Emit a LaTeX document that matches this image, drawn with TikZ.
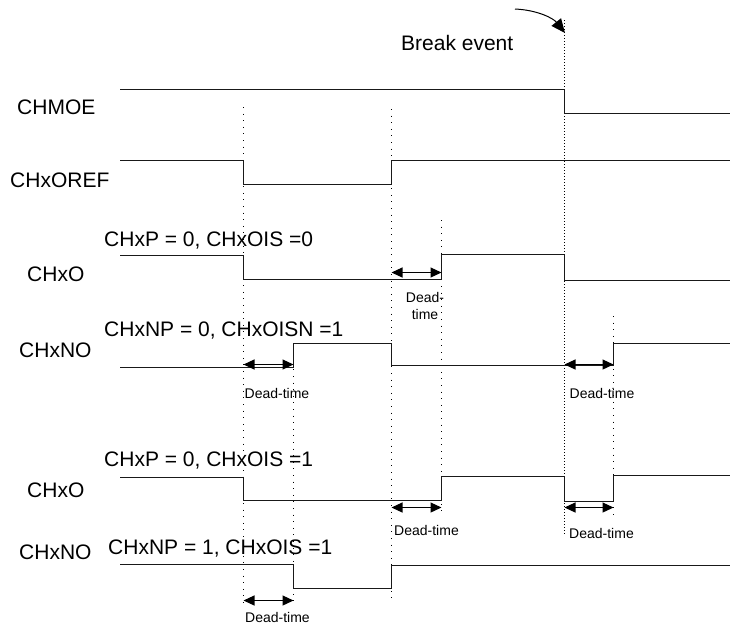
\documentclass[tikz,border=0pt]{standalone}
\usepackage{fontspec}
\setmainfont{Liberation Sans}
\usetikzlibrary{arrows.meta}
\tikzset{
  wave/.style={line width=1.1pt,black!90,line join=miter},
  guide/.style={line width=0.8pt,black,dash pattern=on 1pt off 5.6pt},
  breakguide/.style={line width=1pt,black,dash pattern=on 1.3pt off 1.7pt},
  span/.style={line width=1.2pt,{Triangle[length=11pt,width=10pt]}-{Triangle[length=11pt,width=10pt]}},
  siglabel/.style={font=\fontsize{21}{24}\selectfont,anchor=base west,inner sep=0pt},
  dtlabel/.style={font=\fontsize{14}{17}\selectfont,inner sep=0pt,align=center},
}
\begin{document}
\begin{tikzpicture}[x=1pt,y=-1pt]
\useasboundingbox (0,0) rectangle (730,625);
% guides
\coordinate (a1) at (243.5,107); \coordinate (a2) at (243.5,606);
\coordinate (b1) at (293.5,343);   \coordinate (b2) at (293.5,606);
\coordinate (c1) at (391.5,109); \coordinate (c2) at (391.5,603);
\coordinate (d1) at (441.5,220);   \coordinate (d2) at (441.5,517);
\coordinate (e1) at (564.5,20);    \coordinate (e2) at (564.5,535);
\coordinate (f1) at (613.5,316);   \coordinate (f2) at (613.5,520);
\draw[guide] (a1) -- (a2);
\draw[guide] (b1) -- (b2);
\draw[guide] (c1) -- (c2);
\draw[guide] (d1) -- (d2);
\draw[guide] (f1) -- (f2);
\draw[breakguide] (e1) -- (e2);
% waveforms
\draw[wave] (120,89.5) -- (564.5,89.5) -- (564.5,113.5) -- (730,113.5);
\draw[wave] (120,160.5) -- (243.5,160.5) -- (243.5,184.5) -- (391.5,184.5) -- (391.5,160.5) -- (730,160.5);
\draw[wave] (120,255.5) -- (243.5,255.5) -- (243.5,279.5) -- (441.5,279.5) -- (441.5,254.5) -- (564.5,254.5) -- (564.5,280.5) -- (730,280.5);
\draw[wave] (120,367.5) -- (293.5,367.5) -- (293.5,343.5) -- (391.5,343.5) -- (391.5,365.5) -- (613.5,365.5) -- (613.5,343.5) -- (730,343.5);
\draw[wave] (120,477.5) -- (243.5,477.5) -- (243.5,500.5) -- (441.5,500.5) -- (441.5,476.5) -- (564.5,476.5) -- (564.5,501.5) -- (613.5,501.5) -- (613.5,475.5) -- (730,475.5);
\draw[wave] (120,564.5) -- (293.5,564.5) -- (293.5,588.5) -- (391.5,588.5) -- (391.5,565.5) -- (730,565.5);
% spans
\coordinate (s1a) at (243.5,364.5); \coordinate (s1b) at (293.5,364.5);
\coordinate (s2a) at (391.5,272.5); \coordinate (s2b) at (441.5,272.5);
\coordinate (s3a) at (564.5,364.5); \coordinate (s3b) at (613.5,364.5);
\coordinate (s4a) at (391.5,507.5); \coordinate (s4b) at (441.5,507.5);
\coordinate (s5a) at (564.5,507.5); \coordinate (s5b) at (613.5,507.5);
\coordinate (s6a) at (243.5,600.5); \coordinate (s6b) at (293.5,600.5);
\foreach \n in {1,...,6} \draw[span] (s\n a) -- (s\n b);
% break arrow
\coordinate (bk1) at (515,9); \coordinate (bk2) at (565,33);
\draw[line width=1pt,-{Triangle[length=14pt,width=12pt]}] (bk1) .. controls (537,10) and (553,18) .. (bk2);
% labels
\node[siglabel] (brk) at (401,50) {Break event};
\node[siglabel] (l1) at (17,114) {CHMOE};
\node[siglabel] (l2) at (10,187) {CHxOREF};
\node[siglabel] (l3) at (27,281.5) {CHxO};
\node[siglabel] (l4) at (19,357.5) {CHxNO};
\node[siglabel] (l5) at (27,497.5) {CHxO};
\node[siglabel] (l6) at (19,559) {CHxNO};
\node[siglabel] (t1) at (104,246.5) {CHxP = 0, CHxOIS =0};
\node[siglabel] (t2) at (104,336) {CHxNP = 0, CHxOISN =1};
\node[siglabel] (t3) at (104,466.5) {CHxP = 0, CHxOIS =1};
\node[siglabel] (t4) at (108,554) {CHxNP = 1, CHxOIS =1};
\node[dtlabel] (d1l) at (277,393) {Dead-time};
\node[dtlabel] (d2l) at (425,305.5) {Dead-\\time};
\node[dtlabel] (d3l) at (602,393) {Dead-time};
\node[dtlabel] (d4l) at (426.5,530) {Dead-time};
\node[dtlabel] (d5l) at (601.5,533) {Dead-time};
\node[dtlabel] (d6l) at (277.5,617) {Dead-time};
\end{tikzpicture}
\end{document}
